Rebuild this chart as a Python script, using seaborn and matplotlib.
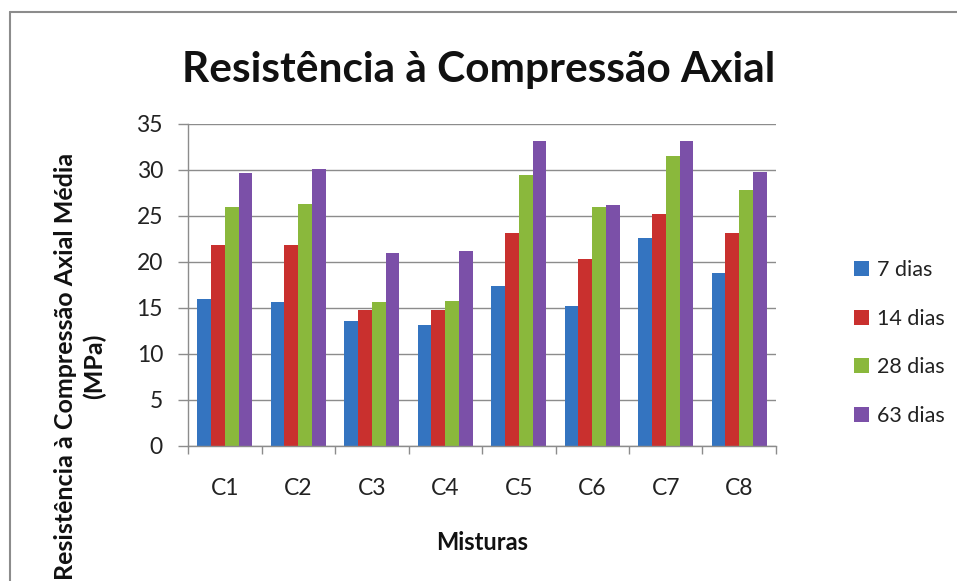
import matplotlib
matplotlib.use("Agg")
import matplotlib.pyplot as plt
import seaborn as sns
import pandas as pd
import numpy as np
from matplotlib.lines import Line2D
from matplotlib.patches import Patch

categories = ["C1", "C2", "C3", "C4", "C5", "C6", "C7", "C8"]
series_names = ["7 dias", "14 dias", "28 dias", "63 dias"]
dias7 = [16.0, 15.7, 13.6, 13.1, 17.4, 15.2, 22.6, 18.8]
dias14 = [21.8, 21.8, 14.8, 14.8, 23.2, 20.3, 25.2, 23.1]
dias28 = [26.0, 26.3, 15.6, 15.8, 29.5, 26.0, 31.5, 27.8]
dias63 = [29.7, 30.1, 21.0, 21.2, 33.2, 26.2, 33.2, 29.8]
yticks = [0, 5, 10, 15, 20, 25, 30, 35]

colors = ["#3474C0", "#C9302E", "#8AB83C", "#7B50A8"]

rows = []
for name, vals in zip(series_names, [dias7, dias14, dias28, dias63]):
    for c, v in zip(categories, vals):
        rows.append({"Mistura": c, "Idade": name, "Valor": v})
df = pd.DataFrame(rows)

sns.set_theme(style="white")
plt.rcParams["font.family"] = ["Lato", "DejaVu Sans"]

fig = plt.figure(figsize=(9.57, 5.81), dpi=100)
ax = fig.add_axes([188/957, 1-446/581, (776-188)/957, (446-124)/581])

sns.barplot(data=df, x="Mistura", y="Valor", hue="Idade", palette=colors,
            width=0.75, gap=0, ax=ax, legend=False, saturation=1,
            edgecolor="none", linewidth=0)

ax.set_ylim(0, 35)
ax.set_xlim(-0.5, len(categories) - 0.5)
ax.set_yticks(yticks)
ax.set_yticklabels([str(t) for t in yticks])
ax.yaxis.grid(True, color="#8C8C8C", linewidth=1.0)
ax.set_axisbelow(True)
for s in ["top", "right"]:
    ax.spines[s].set_visible(False)
ax.spines["left"].set_color("#8C8C8C")
ax.spines["bottom"].set_color("#8C8C8C")
ax.spines["left"].set_linewidth(1.0)
ax.spines["bottom"].set_linewidth(1.0)

ax.tick_params(axis="y", which="major", length=7, width=1, color="#8C8C8C",
               pad=11, labelsize=16.5, labelcolor="#222222", left=True)
ax.set_xticks(np.arange(len(categories)))
ax.set_xticklabels(categories)
ax.tick_params(axis="x", which="major", length=0, pad=23, labelsize=16.5,
               labelcolor="#222222")
ax.set_xticks(np.arange(len(categories) + 1) - 0.5, minor=True)
ax.tick_params(axis="x", which="minor", length=6, width=1, color="#8C8C8C", bottom=True)
ax.set_xlabel("")
ax.set_ylabel("")

fig.text(0.5, 1-70/581, "Resistência à Compressão Axial", ha="center", va="center",
         fontsize=30.5, fontweight="bold", color="#111111")
fig.text(80/957, 1-366/581, "Resistência à Compressão Axial Média\n(MPa)",
         rotation=90, ha="center", va="center", multialignment="center",
         fontsize=18, fontweight="bold", color="#111111", linespacing=1.3)
fig.text(482/957, 1-543/581, "Misturas", ha="center", va="center",
         fontsize=17, fontweight="bold", color="#111111")

handles = [Patch(facecolor=c, edgecolor="none") for c in colors]
fig.legend(handles, series_names, loc="center left",
           bbox_to_anchor=(835/957, 1-343/581), frameon=False, fontsize=15.5,
           handlelength=0.7, handleheight=0.7, handletextpad=0.35,
           labelspacing=1.34, labelcolor="#222222")

# outer border (top and left visible)
fig.add_artist(Line2D([10/957, 10/957], [0, 1-12/581], transform=fig.transFigure,
                      color="#8C8C8C", linewidth=1.5))
fig.add_artist(Line2D([10/957, 1], [1-12/581, 1-12/581], transform=fig.transFigure,
                      color="#8C8C8C", linewidth=1.5))

fig.savefig("out.png", dpi=100, facecolor="white")
